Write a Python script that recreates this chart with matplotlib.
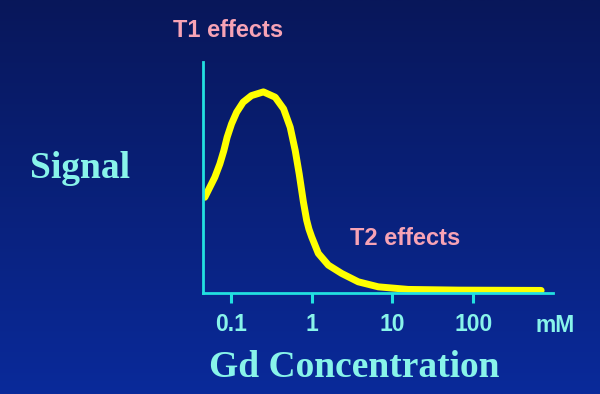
import numpy as np
import matplotlib.pyplot as plt
from matplotlib.colors import LinearSegmentedColormap

# values (signal in arbitrary units, axis top = 231)
gd_conc = [0.0476, 0.0549, 0.0633, 0.0731, 0.0819, 0.0900, 0.102, 0.118,
           0.142, 0.180, 0.253, 0.354, 0.450, 0.543, 0.627, 0.702, 0.791,
           0.867, 0.926, 1.0, 1.21, 1.61, 2.35, 3.78, 6.68, 15.7, 66.8, 693]
signal = [95.7, 105.7, 115.7, 129, 142.3, 155.7, 169, 180.7,
          190.7, 197.3, 201, 195.7, 184, 165.7, 142.3, 119, 91,
          73, 64, 56.3, 39.7, 28, 19.7, 11.3, 6.3, 3.7, 3, 2.7]
tick_vals = [0.1, 1, 10, 100]
tick_labels = ['0.1', '1', '10', '100']

axis_col = '#22e0e0'
text_col = '#88f4ea'
pink = '#f7a3b5'

fig = plt.figure(figsize=(6, 3.94), dpi=100)

# gradient background
bg = fig.add_axes([0, 0, 1, 1])
cmap = LinearSegmentedColormap.from_list('bg', ['#08175a', '#0a2a9a'])
bg.imshow(np.linspace(0, 1, 256).reshape(-1, 1), aspect='auto', cmap=cmap,
          extent=[0, 1, 0, 1])
bg.set_axis_off()

ax = fig.add_axes([0.338, 0.256, 0.584, 0.587])
ax.patch.set_alpha(0)
ax.plot(gd_conc, signal, color='#ffff00', lw=5, solid_capstyle='round',
        solid_joinstyle='round')
ax.set_xscale('log')
ax.set_xlim(10 ** -1.347, 10 ** 2.99)
ax.set_ylim(0, 231)

for s in ['top', 'right']:
    ax.spines[s].set_visible(False)
for s in ['left', 'bottom']:
    ax.spines[s].set_color(axis_col)
    ax.spines[s].set_linewidth(2)

ax.set_yticks([])
ax.set_xticks(tick_vals)
ax.set_xticklabels(tick_labels)
ax.minorticks_off()
ax.tick_params(axis='x', colors=axis_col, length=7, width=2.2, pad=7,
               labelsize=16.5, labelcolor=text_col)
for lbl in ax.get_xticklabels():
    lbl.set_fontfamily('Liberation Sans')
    lbl.set_fontweight('bold')

fig.text(555 / 600, 1 - 326 / 394, 'mM', color=text_col, fontsize=16.5,
         fontweight='bold', family='Liberation Sans', ha='center', va='center')

fig.text(80 / 600, 1 - 178 / 394, 'Signal', color=text_col, fontsize=27,
         fontweight='bold', family='Liberation Serif', ha='center',
         va='baseline')
fig.text(354 / 600, 1 - 377 / 394, 'Gd Concentration', color=text_col,
         fontsize=27, fontweight='bold', family='Liberation Serif',
         ha='center', va='baseline')

fig.text(228 / 600, 1 - 36.7 / 394, 'T1 effects', color=pink, fontsize=17,
         fontweight='bold', family='Liberation Sans', ha='center',
         va='baseline')
fig.text(405 / 600, 1 - 245 / 394, 'T2 effects', color=pink, fontsize=17,
         fontweight='bold', family='Liberation Sans', ha='center',
         va='baseline')

fig.savefig('out.png', dpi=100)
